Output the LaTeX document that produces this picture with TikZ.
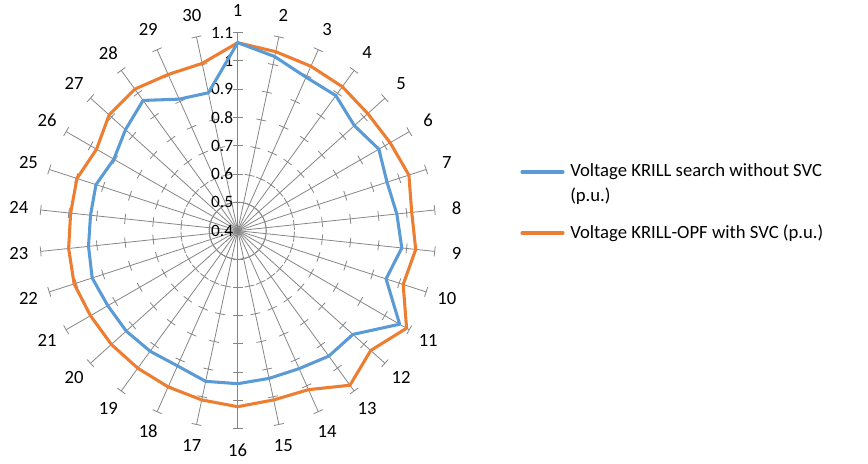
\documentclass[tikz,border=0pt]{standalone}
\usepackage{fontspec}
\setmainfont{Carlito}
\usetikzlibrary{calc}
\definecolor{cblue}{RGB}{91,155,213}
\definecolor{corange}{RGB}{237,125,49}
\definecolor{cgrid}{RGB}{134,134,134}
\begin{document}
\begin{tikzpicture}[x=0.75pt,y=0.75pt,
  spoke/.style={cgrid,line width=0.6pt},
  series/.style={line width=2.3pt,line join=round},
  axlab/.style={font=\fontsize{14}{16}\selectfont,text=black},
  vallab/.style={font=\fontsize{13}{15}\selectfont,text=black,anchor=east,inner sep=1pt},
  leg/.style={font=\fontsize{14}{17}\selectfont,anchor=west,align=left,inner sep=0pt}]
\useasboundingbox (0,0) rectangle (868,464);
\coordinate (c) at (237.7,233.3);
\foreach \i in {1,...,30}{
  \pgfmathsetmacro{\a}{90-(\i-1)*12}
  \draw[spoke] (c) -- ++(\a:198);
  \foreach \k in {1,...,7}{
    \draw[spoke] ($(c)+(\a:\k*28.3)+(\a+90:5)$) -- ($(c)+(\a:\k*28.3)+(\a-90:5)$);
  }
  \node[axlab] (l\i) at ($(c)+(\a:220)$) {\i};
}
\foreach \v [count=\k from 0] in {0.4,0.5,0.6,0.7,0.8,0.9,1,1.1}{
  \node[vallab] (v\k) at ($(c)+(-3,\k*28.3)$) {\v};
}
\foreach \r [count=\i] in {188,183,180,178,175,176,180,175,179,174,195,179,191,174,173,176,173,171,170,170,170,172,170,168,169,163,173,175,171,171}{
  \pgfmathsetmacro{\a}{90-(\i-1)*12}
  \coordinate (o\i) at ($(c)+(\a:\r)$);
}
\foreach \r [count=\i] in {188,178,168,167,157,163,157,160,165,156,187,155,155,151,151,153,154,148,149,150,150,153,150,148,149,143,151,161,144,141}{
  \pgfmathsetmacro{\a}{90-(\i-1)*12}
  \coordinate (b\i) at ($(c)+(\a:\r)$);
}
\draw[series,corange] (o1) \foreach \i in {2,...,30}{ -- (o\i)} -- cycle;
\draw[series,cblue] (b1) \foreach \i in {2,...,30}{ -- (b\i)} -- cycle;
\coordinate (lb1) at (522,292); \coordinate (lb2) at (563,292);
\coordinate (lo1) at (522,231); \coordinate (lo2) at (563,231);
\draw[series,cblue,line cap=round] (lb1) -- (lb2);
\draw[series,corange,line cap=round] (lo1) -- (lo2);
\node[leg] (tb) at (570,292) {Voltage KRILL search without SVC};
\node[leg] (tb2) at (570,268) {(p.u.)};
\node[leg] (to) at (570,231) {Voltage KRILL-OPF with SVC (p.u.)};
\end{tikzpicture}
\end{document}
